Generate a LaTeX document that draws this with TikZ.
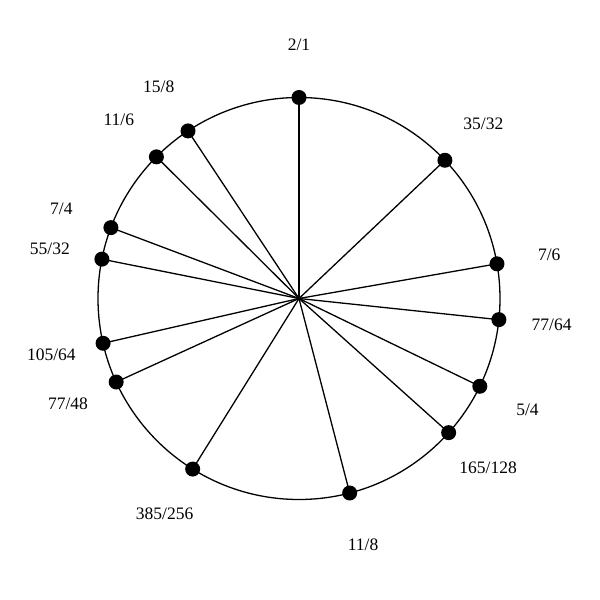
\documentclass[tikz,border=0pt]{standalone}
\usepackage{fontspec}
\setmainfont{Liberation Serif}
\usetikzlibrary{calc}
\begin{document}
\begin{tikzpicture}[x=1pt,y=1pt,
  spoke/.style={line width=1.3pt},
  dotnode/.style={circle,fill=black,inner sep=0pt,minimum size=15pt},
  lbl/.style={font=\fontsize{17.5}{20}\selectfont,inner sep=0pt}]
\useasboundingbox (0,0) rectangle (600,600);
\coordinate (c) at (299,301.5);
\draw[line width=1.3pt] (c) circle (201);
\foreach \n/\v/\t in {a/1/2\slash 1, b/0.1292830/35\slash 32, d/0.2223924/7\slash 6, e/0.2667865/77\slash 64, f/0.3219281/5\slash 4, g/0.3663222/165\slash 128, h/0.4594316/11\slash 8, i/0.5887146/385\slash 256, j/0.6817943/77\slash 48, k/0.7142455/105\slash 64, l/0.7813597/55\slash 32, m/0.8073549/7\slash 4, o/0.8744691/11\slash 6, p/0.9068906/15\slash 8}{
  \pgfmathsetmacro{\ang}{90-360*\v}
  \node[dotnode] (\n) at ($(c)+(\ang:201)$) {};
  \draw[spoke] (c) -- (\n.center);
  \node[lbl] (t\n) at ($(c)+(\ang:254)$) {\t};
}
\end{tikzpicture}
\end{document}
